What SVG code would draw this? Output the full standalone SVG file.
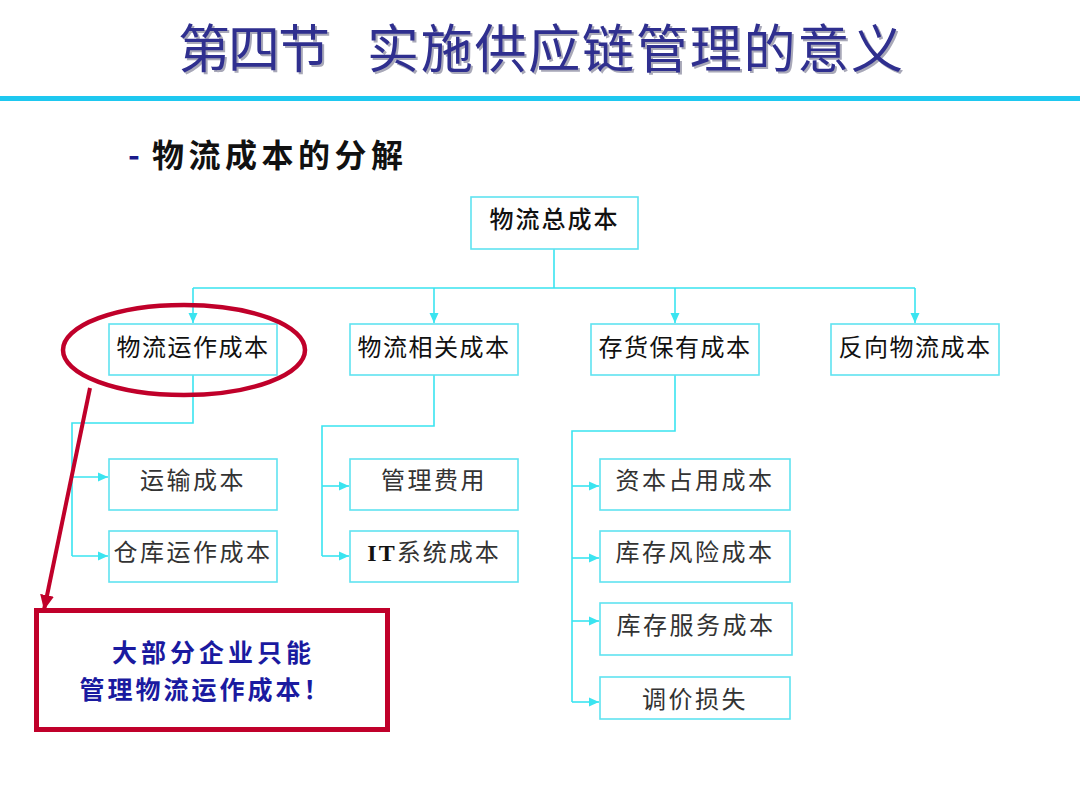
<svg xmlns="http://www.w3.org/2000/svg" width="1080" height="810" viewBox="0 0 1080 810">
<style>
.t{font-family:"Noto Sans CJK SC","Noto Sans",sans-serif;}
.title{font-size:52px;fill:#2f2f8f;}
.shadow{font-size:52px;fill:#a8a8b8;}
.box{fill:#ffffff;stroke:#5fe3f0;stroke-width:1.6;}
.lbl{font-size:24px;fill:#111;text-anchor:middle;}
.lbl3{font-size:24px;fill:#333;text-anchor:middle;}
.con{fill:none;stroke:#3ae4f0;stroke-width:1.6;}
.note{font-size:25px;font-weight:bold;fill:#1a1aa0;text-anchor:middle;}
</style>
<defs>
<marker id="ah" markerUnits="userSpaceOnUse" markerWidth="10" markerHeight="10" refX="10" refY="5" orient="auto">
<path d="M0,0.5 L10,5 L0,9.5 z" fill="#3ae4f0"/>
</marker>
<marker id="rah" markerUnits="userSpaceOnUse" markerWidth="16" markerHeight="16" refX="15" refY="7" orient="auto">
<path d="M0,0 L15,7 L0,14 z" fill="#c0002a"/>
</marker>
</defs>
<rect width="1080" height="810" fill="#ffffff"/>
<g id="title">
<text class="t shadow" x="180" y="70" textLength="152">第四节</text>
<text class="t shadow" x="369" y="70" textLength="536">实施供应链管理的意义</text>
<text class="t title" x="178" y="68" textLength="152">第四节</text>
<text class="t title" x="367" y="68" textLength="536">实施供应链管理的意义</text>
</g>
<rect x="0" y="96" width="1080" height="5" fill="#1ec8f0"/>
<g id="subtitle">
<text class="t" x="128" y="167" font-size="32" font-weight="bold" fill="#1a1a8a">-</text>
<text class="t" x="152" y="167" font-size="32" font-weight="bold" fill="#111" textLength="251">物流成本的分解</text>
</g>
<g id="connectors">
<path class="con" d="M554,249 V288 M193,288 H915"/>
<path class="con" d="M193,288 V323" marker-end="url(#ah)"/>
<path class="con" d="M434,288 V323" marker-end="url(#ah)"/>
<path class="con" d="M675,288 V323" marker-end="url(#ah)"/>
<path class="con" d="M915,288 V323" marker-end="url(#ah)"/>
<path class="con" d="M193,375 V423 H72 V556"/>
<path class="con" d="M72,477 H108" marker-end="url(#ah)"/>
<path class="con" d="M72,556 H108" marker-end="url(#ah)"/>
<path class="con" d="M434,375 V426 H322 V556"/>
<path class="con" d="M322,486 H349" marker-end="url(#ah)"/>
<path class="con" d="M322,556 H349" marker-end="url(#ah)"/>
<path class="con" d="M675,375 V431 H572 V702"/>
<path class="con" d="M572,486 H599" marker-end="url(#ah)"/>
<path class="con" d="M572,558 H599" marker-end="url(#ah)"/>
<path class="con" d="M572,621 H599" marker-end="url(#ah)"/>
<path class="con" d="M572,702 H599" marker-end="url(#ah)"/>
</g>
<g id="n-total"><rect class="box" x="471" y="197" width="167" height="52"/><text class="t lbl" x="554.5" y="228" font-weight="500" letter-spacing="2">物流总成本</text></g>
<g id="n-ops"><rect class="box" x="109" y="324" width="168" height="51"/><text class="t lbl" x="193" y="356" font-size="25" letter-spacing="1.5">物流运作成本</text></g>
<g id="n-rel"><rect class="box" x="350" y="324" width="168" height="51"/><text class="t lbl" x="434" y="356" font-size="25" letter-spacing="1.5">物流相关成本</text></g>
<g id="n-inv"><rect class="box" x="591" y="324" width="168" height="51"/><text class="t lbl" x="675" y="356" font-size="25" letter-spacing="1.5">存货保有成本</text></g>
<g id="n-rev"><rect class="box" x="831" y="324" width="168" height="51"/><text class="t lbl" x="915" y="356" font-size="25" letter-spacing="1.5">反向物流成本</text></g>
<g id="n-trans"><rect class="box" x="109" y="459" width="168" height="51"/><text class="t lbl3" x="193" y="489" letter-spacing="2.5">运输成本</text></g>
<g id="n-wh"><rect class="box" x="109" y="531" width="168" height="51"/><text class="t lbl3" x="193" y="561" letter-spacing="2.5">仓库运作成本</text></g>
<g id="n-mgmt"><rect class="box" x="350" y="459" width="168" height="51"/><text class="t lbl3" x="434" y="489" letter-spacing="2.5">管理费用</text></g>
<g id="n-it"><rect class="box" x="350" y="531" width="168" height="51"/><text class="t lbl3" x="434" y="561" letter-spacing="2"><tspan font-family="Liberation Serif" font-weight="bold" fill="#111">IT</tspan>系统成本</text></g>
<g id="n-cap"><rect class="box" x="600" y="459" width="190" height="51"/><text class="t lbl3" x="695" y="489" letter-spacing="2.5">资本占用成本</text></g>
<g id="n-risk"><rect class="box" x="600" y="531" width="190" height="51"/><text class="t lbl3" x="695" y="561" letter-spacing="2.5">库存风险成本</text></g>
<g id="n-svc"><rect class="box" x="600" y="603" width="192" height="52"/><text class="t lbl3" x="696" y="634" letter-spacing="2.5">库存服务成本</text></g>
<g id="n-price"><rect class="box" x="600" y="677" width="190" height="42"/><text class="t lbl3" x="695" y="708" letter-spacing="2.5">调价损失</text></g>
<g id="highlight">
<ellipse cx="184" cy="350" rx="121" ry="45" fill="none" stroke="#c0002a" stroke-width="4.5"/>
<path d="M90,388 L44,610" fill="none" stroke="#c0002a" stroke-width="4" marker-end="url(#rah)"/>
</g>
<g id="n-note">
<rect x="36.5" y="610.5" width="351" height="119" fill="#ffffff" stroke="#c0002a" stroke-width="5"/>
<text class="t note" x="213.5" y="661.5" letter-spacing="4">大部分企业只能</text>
<text class="t note" x="205.5" y="698.5" letter-spacing="3">管理物流运作成本！</text>
</g>
</svg>
